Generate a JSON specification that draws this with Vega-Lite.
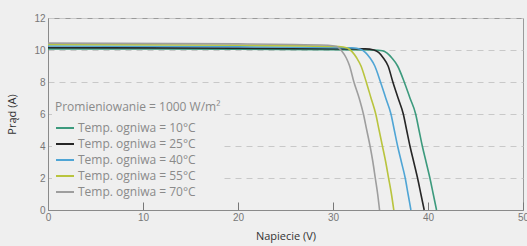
{
  "$schema": "https://vega.github.io/schema/vega-lite/v6.json",
  "autosize": {"type": "none"},
  "padding": {"left": 48, "top": 18, "right": 4, "bottom": 36},
  "width": 475,
  "height": 192,
  "background": "#efefef",
  "config": {
    "view": {"stroke": "#9a9a9a", "strokeWidth": 1},
    "axis": {"domainColor": "#8a8a8a", "labelFont": "Liberation Sans", "labelFontSize": 10, "labelColor": "#777777", "titleFont": "Open Sans", "titleFontSize": 11, "titleFontWeight": "normal", "titleColor": "#333333"}
  },
  "data": {"values": [
    {"s": "Temp. ogniwa = 10°C", "v": 0, "i": 10.07},
    {"s": "Temp. ogniwa = 10°C", "v": 20, "i": 10.05},
    {"s": "Temp. ogniwa = 10°C", "v": 34.3, "i": 10.0},
    {"s": "Temp. ogniwa = 10°C", "v": 35.2, "i": 9.95},
    {"s": "Temp. ogniwa = 10°C", "v": 35.7, "i": 9.8},
    {"s": "Temp. ogniwa = 10°C", "v": 36.2, "i": 9.5},
    {"s": "Temp. ogniwa = 10°C", "v": 36.8, "i": 9.0},
    {"s": "Temp. ogniwa = 10°C", "v": 37.5, "i": 8.0},
    {"s": "Temp. ogniwa = 10°C", "v": 38.1, "i": 7.0},
    {"s": "Temp. ogniwa = 10°C", "v": 38.7, "i": 6.0},
    {"s": "Temp. ogniwa = 10°C", "v": 39.05, "i": 5.0},
    {"s": "Temp. ogniwa = 10°C", "v": 39.4, "i": 4.0},
    {"s": "Temp. ogniwa = 10°C", "v": 39.8, "i": 3.0},
    {"s": "Temp. ogniwa = 10°C", "v": 40.2, "i": 2.0},
    {"s": "Temp. ogniwa = 10°C", "v": 40.55, "i": 1.0},
    {"s": "Temp. ogniwa = 10°C", "v": 40.9, "i": 0},

    {"s": "Temp. ogniwa = 25°C", "v": 0, "i": 10.15},
    {"s": "Temp. ogniwa = 25°C", "v": 20, "i": 10.12},
    {"s": "Temp. ogniwa = 25°C", "v": 33.4, "i": 10.07},
    {"s": "Temp. ogniwa = 25°C", "v": 34.3, "i": 10.0},
    {"s": "Temp. ogniwa = 25°C", "v": 34.8, "i": 9.85},
    {"s": "Temp. ogniwa = 25°C", "v": 35.3, "i": 9.5},
    {"s": "Temp. ogniwa = 25°C", "v": 35.8, "i": 9.0},
    {"s": "Temp. ogniwa = 25°C", "v": 36.3, "i": 8.0},
    {"s": "Temp. ogniwa = 25°C", "v": 36.85, "i": 7.0},
    {"s": "Temp. ogniwa = 25°C", "v": 37.4, "i": 6.0},
    {"s": "Temp. ogniwa = 25°C", "v": 37.75, "i": 5.0},
    {"s": "Temp. ogniwa = 25°C", "v": 38.1, "i": 4.0},
    {"s": "Temp. ogniwa = 25°C", "v": 38.5, "i": 3.0},
    {"s": "Temp. ogniwa = 25°C", "v": 38.9, "i": 2.0},
    {"s": "Temp. ogniwa = 25°C", "v": 39.25, "i": 1.0},
    {"s": "Temp. ogniwa = 25°C", "v": 39.6, "i": 0},

    {"s": "Temp. ogniwa = 40°C", "v": 0, "i": 10.25},
    {"s": "Temp. ogniwa = 40°C", "v": 20, "i": 10.2},
    {"s": "Temp. ogniwa = 40°C", "v": 32.0, "i": 10.13},
    {"s": "Temp. ogniwa = 40°C", "v": 32.9, "i": 10.05},
    {"s": "Temp. ogniwa = 40°C", "v": 33.4, "i": 9.85},
    {"s": "Temp. ogniwa = 40°C", "v": 33.9, "i": 9.5},
    {"s": "Temp. ogniwa = 40°C", "v": 34.4, "i": 9.0},
    {"s": "Temp. ogniwa = 40°C", "v": 35.0, "i": 8.0},
    {"s": "Temp. ogniwa = 40°C", "v": 35.55, "i": 7.0},
    {"s": "Temp. ogniwa = 40°C", "v": 36.1, "i": 6.0},
    {"s": "Temp. ogniwa = 40°C", "v": 36.45, "i": 5.0},
    {"s": "Temp. ogniwa = 40°C", "v": 36.8, "i": 4.0},
    {"s": "Temp. ogniwa = 40°C", "v": 37.2, "i": 3.0},
    {"s": "Temp. ogniwa = 40°C", "v": 37.6, "i": 2.0},
    {"s": "Temp. ogniwa = 40°C", "v": 37.9, "i": 1.0},
    {"s": "Temp. ogniwa = 40°C", "v": 38.2, "i": 0},

    {"s": "Temp. ogniwa = 55°C", "v": 0, "i": 10.35},
    {"s": "Temp. ogniwa = 55°C", "v": 20, "i": 10.3},
    {"s": "Temp. ogniwa = 55°C", "v": 30.6, "i": 10.22},
    {"s": "Temp. ogniwa = 55°C", "v": 31.5, "i": 10.13},
    {"s": "Temp. ogniwa = 55°C", "v": 32.0, "i": 9.9},
    {"s": "Temp. ogniwa = 55°C", "v": 32.5, "i": 9.5},
    {"s": "Temp. ogniwa = 55°C", "v": 32.95, "i": 9.0},
    {"s": "Temp. ogniwa = 55°C", "v": 33.5, "i": 8.0},
    {"s": "Temp. ogniwa = 55°C", "v": 34.0, "i": 7.0},
    {"s": "Temp. ogniwa = 55°C", "v": 34.5, "i": 6.0},
    {"s": "Temp. ogniwa = 55°C", "v": 34.85, "i": 5.0},
    {"s": "Temp. ogniwa = 55°C", "v": 35.2, "i": 4.0},
    {"s": "Temp. ogniwa = 55°C", "v": 35.55, "i": 3.0},
    {"s": "Temp. ogniwa = 55°C", "v": 35.85, "i": 2.0},
    {"s": "Temp. ogniwa = 55°C", "v": 36.15, "i": 1.0},
    {"s": "Temp. ogniwa = 55°C", "v": 36.4, "i": 0},

    {"s": "Temp. ogniwa = 70°C", "v": 0, "i": 10.43},
    {"s": "Temp. ogniwa = 70°C", "v": 20, "i": 10.38},
    {"s": "Temp. ogniwa = 70°C", "v": 29.5, "i": 10.3},
    {"s": "Temp. ogniwa = 70°C", "v": 30.4, "i": 10.22},
    {"s": "Temp. ogniwa = 70°C", "v": 30.9, "i": 9.95},
    {"s": "Temp. ogniwa = 70°C", "v": 31.4, "i": 9.5},
    {"s": "Temp. ogniwa = 70°C", "v": 31.75, "i": 9.0},
    {"s": "Temp. ogniwa = 70°C", "v": 32.2, "i": 8.0},
    {"s": "Temp. ogniwa = 70°C", "v": 32.75, "i": 7.0},
    {"s": "Temp. ogniwa = 70°C", "v": 33.2, "i": 6.0},
    {"s": "Temp. ogniwa = 70°C", "v": 33.55, "i": 5.0},
    {"s": "Temp. ogniwa = 70°C", "v": 33.9, "i": 4.0},
    {"s": "Temp. ogniwa = 70°C", "v": 34.2, "i": 3.0},
    {"s": "Temp. ogniwa = 70°C", "v": 34.45, "i": 2.0},
    {"s": "Temp. ogniwa = 70°C", "v": 34.7, "i": 1.0},
    {"s": "Temp. ogniwa = 70°C", "v": 34.9, "i": 0}
  ]},
  "mark": {"type": "line", "interpolate": "monotone", "strokeWidth": 1.6},
  "encoding": {
    "x": {"field": "v", "type": "quantitative", "title": "Napiecie (V)",
      "scale": {"domain": [0, 50], "nice": false},
      "axis": {"values": [0, 10, 20, 30, 40, 50], "grid": false, "tickSize": -8, "tickColor": "#777777", "tickWidth": 1, "labelPadding": 10, "titlePadding": 8, "labelFlush": false}},
    "y": {"field": "i", "type": "quantitative", "title": "Prąd (A)",
      "scale": {"domain": [0, 12], "nice": false},
      "axis": {"values": [0, 2, 4, 6, 8, 10, 12], "ticks": false, "labelPadding": 3, "titlePadding": 16, "grid": true, "gridColor": "#c8c8c8", "gridDash": [6, 5], "gridWidth": 1}},
    "color": {"field": "s", "type": "nominal", "sort": null,
      "scale": {"domain": ["Temp. ogniwa = 10°C", "Temp. ogniwa = 25°C", "Temp. ogniwa = 40°C", "Temp. ogniwa = 55°C", "Temp. ogniwa = 70°C"],
        "range": ["#3c9a7d", "#262626", "#4fa5d5", "#b9c43e", "#9e9e9e"]},
      "legend": {"title": "Promieniowanie = 1000 W/m²", "orient": "none", "legendX": 4, "legendY": 81,
        "fillColor": "#efefef", "padding": 3, "titleFont": "Open Sans", "titleFontSize": 12, "titleFontWeight": "normal", "titleColor": "#8a8a8a", "titlePadding": 4,
        "labelFont": "Open Sans", "labelFontSize": 12, "labelColor": "#8a8a8a", "symbolType": "stroke", "symbolSize": 324, "symbolStrokeWidth": 2, "rowPadding": -5, "labelOffset": 3}}
  }
}
